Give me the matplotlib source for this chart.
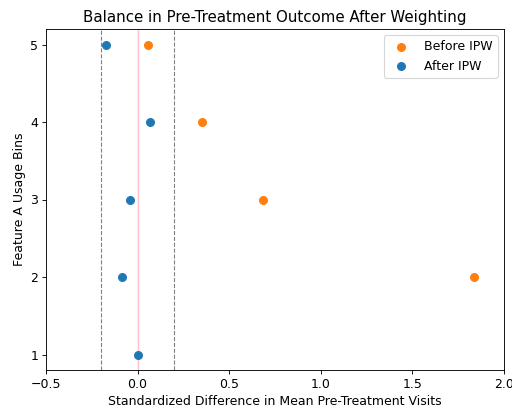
import matplotlib
matplotlib.use("Agg")
import numpy as np
import matplotlib.pyplot as plt

plt.rcParams["font.size"] = 11.3

bins = [1, 2, 3, 4, 5]
before_ipw = [np.nan, 1.836, 0.683, 0.35, 0.055]
after_ipw = [0.0, -0.087, -0.044, 0.066, -0.175]

fig = plt.figure(figsize=(6.4, 5.125), dpi=80)
ax = fig.add_axes([46 / 512, 1 - 370 / 410, (504 - 46) / 512, (370 - 29) / 410])

ax.axvline(0, color="pink", linewidth=1.3, zorder=0)
ax.axvline(-0.2, color="gray", linestyle="--", linewidth=1, zorder=0)
ax.axvline(0.2, color="gray", linestyle="--", linewidth=1, zorder=0)

ax.scatter(before_ipw, bins, s=50, color="tab:orange", label="Before IPW", zorder=3)
ax.scatter(after_ipw, bins, s=50, color="tab:blue", label="After IPW", zorder=3)

ax.set_xlim(-0.5, 2.0)
ax.set_ylim(0.8, 5.2)
ax.set_yticks(bins)
ax.set_xlabel("Standardized Difference in Mean Pre-Treatment Visits")
ax.set_ylabel("Feature A Usage Bins")
ax.set_title("Balance in Pre-Treatment Outcome After Weighting")
ax.legend()

fig.savefig("out.png")
